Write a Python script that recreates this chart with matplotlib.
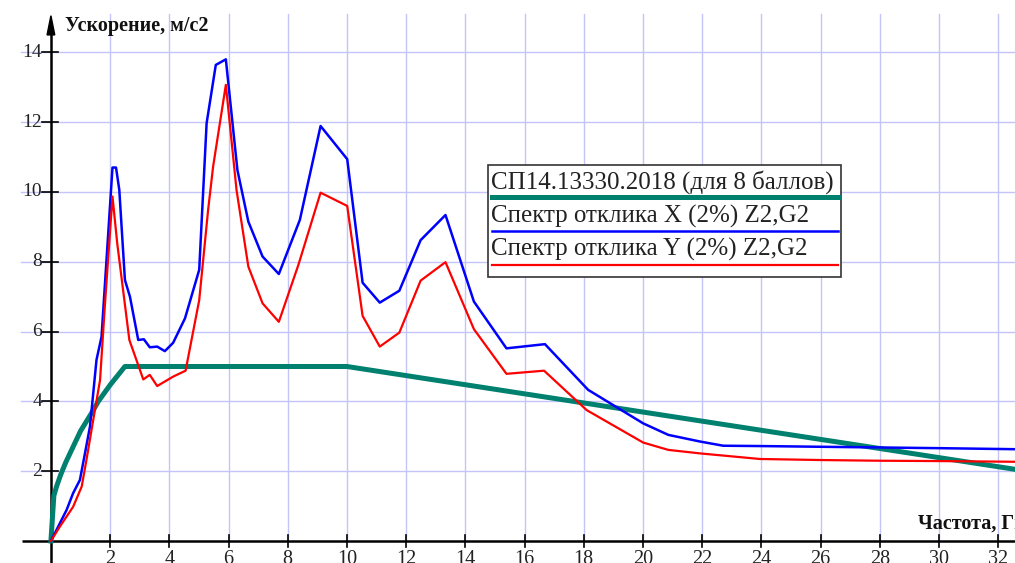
import matplotlib
matplotlib.use("Agg")
import matplotlib.pyplot as plt
from matplotlib.patches import Rectangle, Polygon

plt.rcParams['font.family'] = ['Liberation Serif', 'DejaVu Serif']

# Design spectrum SP 14.13330.2018 (8 points)
sp_freq = [0, 0.1, 0.19, 0.33, 0.5, 0.75, 1.0, 1.37, 1.6, 2.0, 2.5, 10, 32.6]
sp_acc = [0, 1.3, 1.56, 1.9, 2.25, 2.7, 3.15, 3.66, 4.0, 4.47, 5.0, 5.0, 2.05]

# Response spectrum X (2%) Z2,G2
x_freq = [0, 0.53, 0.75, 0.98, 1.15, 1.32, 1.54, 1.71, 2.08, 2.2, 2.31, 2.5,
          2.67, 2.95, 3.14, 3.34, 3.59, 3.85, 4.13, 4.53, 5.01, 5.26, 5.57,
          5.91, 6.3, 6.67, 7.15, 7.70, 8.41, 9.11, 10.01, 10.53, 11.11, 11.77,
          12.49, 13.33, 14.29, 15.39, 16.69, 18.15, 20.01, 20.86, 21.93,
          22.71, 24, 26, 28, 30, 32.6]
x_acc = [0, 0.89, 1.37, 1.75, 2.51, 3.28, 5.19, 5.85, 10.7, 10.7, 10.06, 7.48,
         7.0, 5.76, 5.78, 5.55, 5.57, 5.44, 5.68, 6.38, 7.77, 11.97, 13.64,
         13.8, 10.63, 9.15, 8.15, 7.65, 9.2, 11.89, 10.94, 7.40, 6.83, 7.17,
         8.62, 9.34, 6.86, 5.52, 5.64, 4.33, 3.37, 3.04, 2.85,
         2.73, 2.72, 2.70, 2.68, 2.66, 2.63]

# Response spectrum Y (2%) Z2,G2
y_freq = [0, 0.30, 0.75, 1.04, 1.2, 1.43, 1.66, 1.82, 2.08, 2.24, 2.65, 3.12,
          3.34, 3.59, 4.13, 4.55, 5.01, 5.31, 5.48, 5.91, 6.27, 6.67, 7.15,
          7.70, 8.36, 9.11, 10.01, 10.53, 11.11, 11.77, 12.49, 13.33, 14.29,
          15.39, 16.66, 18.1, 20.01, 20.86, 21.93, 23.95, 26, 28, 30, 32.6]
y_acc = [0, 0.41, 0.98, 1.56, 2.32, 3.47, 4.61, 6.71, 9.87, 8.53, 5.76, 4.63,
         4.76, 4.44, 4.71, 4.88, 6.9, 9.48, 10.73, 13.07, 10.06, 7.86, 6.81,
         6.28, 7.91, 9.98, 9.6, 6.45, 5.57, 5.97, 7.46, 7.99, 6.07,
         4.79, 4.88, 3.75, 2.82, 2.61, 2.51, 2.35, 2.32, 2.30, 2.29, 2.27]

x_ticks = list(range(2, 33, 2))
y_ticks = list(range(2, 15, 2))

legend_labels = ["СП14.13330.2018 (для 8 баллов)",
                 "Спектр отклика X (2%) Z2,G2",
                 "Спектр отклика Y (2%) Z2,G2"]
colors = ["#00806E", "#0000FF", "#FF0000"]
widths = [3.6, 1.8, 1.6]

W, H = 1015, 563
fig = plt.figure(figsize=(W / 100, H / 100), dpi=100)
ax = fig.add_axes([0, 0, 1, 1])
ax.set_xlim(-1.72, 32.57)
ax.set_ylim(-0.63, 15.5)
ax.axis('off')

grid_c = "#C4C4FA"
for xv in x_ticks:
    ax.plot([xv, xv], [0, 15.1], color=grid_c, lw=1.0, zorder=1)
for yv in y_ticks:
    ax.plot([-1.0, 33], [yv, yv], color=grid_c, lw=1.0, zorder=1)

# axes with ticks
ax.plot([-0.98, 33], [0, 0], color="black", lw=1.8, zorder=3, solid_capstyle='butt')
ax.plot([0, 0], [-0.7, 14.55], color="black", lw=1.8, zorder=3, solid_capstyle='butt')
ax.add_patch(Polygon([[0, 15.05], [-0.13, 14.5], [0.13, 14.5]], closed=True,
                     color="black", zorder=3))
for xv in x_ticks:
    ax.plot([xv, xv], [-0.18, 0.17], color="black", lw=1.2, zorder=3)
    ax.text(xv, -0.27, str(xv), ha='center', va='top', fontsize=14.5, color="#222222")
for yv in y_ticks:
    ax.plot([-0.3, 0.24], [yv, yv], color="black", lw=1.2, zorder=3)
    ax.text(-0.29, yv, str(yv), ha='right', va='center', fontsize=14, color="#222222")

ax.text(0.47, 14.76, "Ускорение, м/с2", ha='left', va='center', fontsize=14.5,
        fontweight='bold', color="#111111")
ax.text(29.3, 0.49, "Частота, Гц", ha='left', va='center', fontsize=14.5,
        fontweight='bold', color="#111111")

ax.plot(sp_freq, sp_acc, color=colors[0], lw=widths[0], zorder=4, solid_joinstyle='round')
ax.plot(x_freq, x_acc, color=colors[1], lw=widths[1], zorder=5)
ax.plot(y_freq, y_acc, color=colors[2], lw=widths[2], zorder=6)

# legend box drawn in pixel-based figure coordinates
def fx(px):
    return px / W

def fy(py):
    return 1 - py / H

fig.patches.append(Rectangle((fx(488), fy(277)), fx(841) - fx(488), fy(165) - fy(277),
                             transform=fig.transFigure, facecolor="white",
                             edgecolor="#333333", lw=1.2, zorder=10))
baselines = [189, 223, 256]
underlines = [197, 231, 265]
for lab, c, w, bl, ul in zip(legend_labels, colors, widths, baselines, underlines):
    fig.text(fx(491), fy(bl), lab, ha='left', va='baseline', fontsize=18,
             color="#222222", zorder=11)
    fig.lines.append(plt.Line2D([fx(492), fx(838)], [fy(ul), fy(ul)],
                                transform=fig.transFigure, color=c,
                                lw=w, zorder=11))

fig.savefig("out.png", dpi=100)
